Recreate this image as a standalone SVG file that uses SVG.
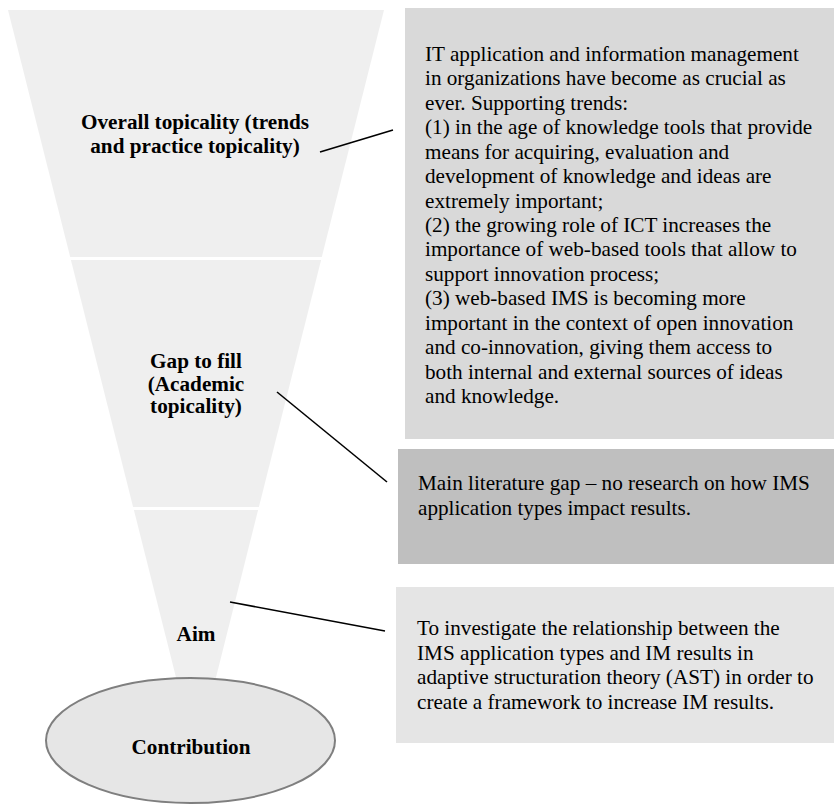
<svg xmlns="http://www.w3.org/2000/svg" width="834" height="805" viewBox="0 0 834 805">
<style>
.seg{fill:#efefef;stroke:none}
.lbl{font-family:"Liberation Serif","Times New Roman",serif;font-size:21.2px;font-weight:bold;fill:#000;text-anchor:middle}
.txt{font-family:"Liberation Serif","Times New Roman",serif;font-size:21.2px;fill:#000}
.conn line{stroke:#000;stroke-width:1.6}
</style>
<rect width="834" height="805" fill="#fff"/>
<g id="overall">
<polygon class="seg" points="8,10 384,10 321.8,257 70.2,257"/>
<text class="lbl" x="195" y="129">Overall topicality (trends</text>
<text class="lbl" x="195" y="153">and practice topicality)</text>
</g>
<g id="gap">
<polygon class="seg" points="70.9,260 321.1,260 258.9,507 133.1,507"/>
<text class="lbl" x="196" y="368">Gap to fill</text>
<text class="lbl" x="196" y="391">(Academic</text>
<text class="lbl" x="196" y="413">topicality)</text>
</g>
<g id="aim">
<polygon class="seg" points="133.9,510 258.1,510 210.3,700 181.7,700"/>
<text class="lbl" x="196" y="641">Aim</text>
</g>
<g id="contribution">
<ellipse cx="190.5" cy="740.5" rx="144.5" ry="62.5" fill="#e6e6e6" stroke="#7f7f7f" stroke-width="2"/>
<text class="lbl" x="191" y="754">Contribution</text>
</g>
<g id="trends-box">
<rect x="405" y="8" width="429" height="431" fill="#d9d9d9"/>
<text class="txt">
<tspan x="425" y="61">IT application and information management</tspan>
<tspan x="425" y="85.4">in organizations have become as crucial as</tspan>
<tspan x="425" y="109.9">ever. Supporting trends:</tspan>
<tspan x="425" y="134.3">(1) in the age of knowledge tools that provide</tspan>
<tspan x="425" y="158.7">means for acquiring, evaluation and</tspan>
<tspan x="425" y="183.2">development of knowledge and ideas are</tspan>
<tspan x="425" y="207.6">extremely important;</tspan>
<tspan x="425" y="232">(2) the growing role of ICT increases the</tspan>
<tspan x="425" y="256.4">importance of web-based tools that allow to</tspan>
<tspan x="425" y="280.9">support innovation process;</tspan>
<tspan x="425" y="305.3">(3) web-based IMS is becoming more</tspan>
<tspan x="425" y="329.7">important in the context of open innovation</tspan>
<tspan x="425" y="354.2">and co-innovation, giving them access to</tspan>
<tspan x="425" y="378.6">both internal and external sources of ideas</tspan>
<tspan x="425" y="403">and knowledge.</tspan>
</text>
</g>
<g id="gap-box">
<rect x="398" y="449" width="436" height="115" fill="#bfbfbf"/>
<text class="txt">
<tspan x="418" y="490">Main literature gap – no research on how IMS</tspan>
<tspan x="418" y="515">application types impact results.</tspan>
</text>
</g>
<g id="aim-box">
<rect x="396" y="587" width="438" height="156" fill="#e5e5e5"/>
<text class="txt">
<tspan x="417" y="635">To investigate the relationship between the</tspan>
<tspan x="417" y="659.5">IMS application types and IM results in</tspan>
<tspan x="417" y="684">adaptive structuration theory (AST) in order to</tspan>
<tspan x="417" y="708.5">create a framework to increase IM results.</tspan>
</text>
</g>
<g id="connectors" class="conn">
<line x1="320" y1="152" x2="393" y2="130"/>
<line x1="277" y1="392" x2="387" y2="482"/>
<line x1="230" y1="602" x2="385" y2="631"/>
</g>
</svg>
